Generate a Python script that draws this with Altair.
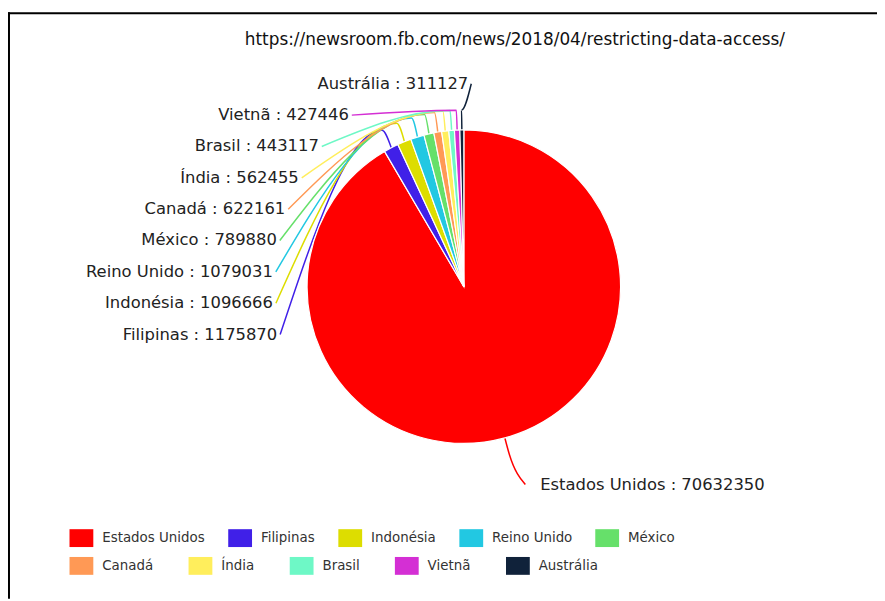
import altair as alt
import numpy as np
import pandas as pd

# ---------------- data ----------------
countries = ["Estados Unidos", "Filipinas", "Indonésia", "Reino Unido", "México",
             "Canadá", "Índia", "Brasil", "Vietnã", "Austrália"]
values = [70632350, 1175870, 1096666, 1079031, 789880,
          622161, 562455, 443117, 427446, 311127]
colors = ["#ff0000", "#4020e8", "#dddd00", "#22c8e2", "#66e06a",
          "#ff9955", "#ffee5c", "#6ef8c6", "#d42fd4", "#10223a"]
title_text = "https://newsroom.fb.com/news/2018/04/restricting-data-access/"

# ---------------- layout ----------------
W, H = 876, 593
CX, CY, R = 459.5, 278.5, 158
FONT = "DejaVu Sans"

df = pd.DataFrame({"country": countries, "value": values, "idx": range(len(values)),
                   "col": colors})
df["label"] = df["country"] + " : " + df["value"].astype(str)

total = float(sum(values))
v = np.array(values, dtype=float)
start = np.cumsum(v) - v
mid = (start + v / 2) / total * 2 * np.pi

rows = []
lab_rows = []
for i in range(1, len(values)):
    rank = len(values) - 1 - i
    ly = 74 + rank * 31.6
    dy = ly - CY
    if abs(dy) > R + 30:
        ax = CX + 7.5
    else:
        ax = CX - 190 * np.sqrt(max(0.0, 1 - (dy / 215) ** 2))
    lab_rows.append({"country": countries[i], "label": df.loc[i, "label"], "x": ax - 3, "y": ly})
    a = mid[i]
    pts = [(ax, ly), (CX + 178 * np.sin(a), CY - 178 * np.cos(a)),
           (CX + 157 * np.sin(a), CY - 157 * np.cos(a))]
    for k, (px, py) in enumerate(pts):
        rows.append({"country": countries[i], "col": colors[i], "pt": k, "x": px, "y": py})

# main slice label (right side)
a = mid[0]
us_y = CY + 199.5
us_ax = CX + 62
pts = [(CX + 157 * np.sin(a), CY - 157 * np.cos(a)),
       (CX + 175 * np.sin(a), CY - 175 * np.cos(a)), (us_ax, us_y)]
for k, (px, py) in enumerate(pts):
    rows.append({"country": countries[0], "col": colors[0], "pt": k, "x": px, "y": py})
us_lab = pd.DataFrame([{"label": df.loc[0, "label"], "x": us_ax + 15, "y": us_y}])

lines_df = pd.DataFrame(rows)
labs_df = pd.DataFrame(lab_rows)

xs = alt.Scale(domain=[0, W], range=[0, W], nice=False, zero=False)
ys = alt.Scale(domain=[0, H], range=[0, H], nice=False, zero=False)

color_scale = alt.Scale(domain=countries, range=colors)
row2_scale = alt.Scale(domain=countries[5:], range=colors[5:])

legend_common = dict(orient="none", direction="horizontal", symbolType="M-1,-0.75H1V0.75H-1Z",
                     symbolSize=576, symbolStrokeWidth=0, symbolOpacity=1,
                     labelFont=FONT, labelFontSize=13.5, labelColor="#333333",
                     labelOffset=9, padding=0, labelLimit=300, title=None)

pie = alt.Chart(df).mark_arc(radius=R, stroke="white", strokeWidth=1.2).encode(
    theta=alt.Theta("value:Q", stack=True),
    color=alt.Color("country:N", scale=color_scale, sort=countries,
                    legend=alt.Legend(legendX=62, legendY=520, values=countries[:5],
                                      columnPadding=23, **legend_common)),
    order=alt.Order("idx:Q"),
    x=alt.value(CX),
    y=alt.value(CY),
)

# second legend row (flow layout like the original)
row2 = alt.Chart(df.iloc[5:]).mark_point(opacity=0, filled=True).encode(
    fill=alt.Fill("country:N", scale=row2_scale, sort=countries[5:],
                  legend=alt.Legend(legendX=62, legendY=548, columnPadding=35,
                                    **legend_common)),
    x=alt.value(CX),
    y=alt.value(CY),
)

leaders = alt.Chart(lines_df).mark_line(strokeWidth=1.5, interpolate="monotone").encode(
    x=alt.X("x:Q", scale=xs, axis=None),
    y=alt.Y("y:Q", scale=ys, axis=None),
    detail="country:N",
    stroke=alt.Stroke("col:N", scale=None),
    order=alt.Order("pt:Q"),
)

labels = alt.Chart(labs_df).mark_text(align="right", baseline="middle", font=FONT,
                                      fontSize=16.5, color="#222222").encode(
    x=alt.X("x:Q", scale=xs, axis=None),
    y=alt.Y("y:Q", scale=ys, axis=None),
    text="label:N",
)

us_label = alt.Chart(us_lab).mark_text(align="left", baseline="middle", font=FONT,
                                       fontSize=16.5, color="#222222").encode(
    x=alt.X("x:Q", scale=xs, axis=None),
    y=alt.Y("y:Q", scale=ys, axis=None),
    text="label:N",
)

title = alt.Chart(pd.DataFrame({"t": [title_text]})).mark_text(
    align="center", baseline="middle", font=FONT, fontSize=17, color="#111111").encode(
    x=alt.value(511), y=alt.value(30), text="t:N")

frame_df = pd.DataFrame({"k": [0]})
top_rule = alt.Chart(frame_df).mark_rule(color="black", strokeWidth=2).encode(
    x=alt.value(0), x2=alt.value(W), y=alt.value(3))
left_rule = alt.Chart(frame_df).mark_rule(color="black", strokeWidth=2).encode(
    x=alt.value(1), y=alt.value(2), y2=alt.value(H))

chart = alt.layer(top_rule, left_rule, leaders, pie, row2, labels, us_label, title).properties(
    width=W, height=H, padding=0, autosize=alt.AutoSizeParams(type="none")
).resolve_legend(color="independent", fill="independent").configure_view(stroke=None)

chart.save("out.html", embed_options={"renderer": "svg", "actions": False})
